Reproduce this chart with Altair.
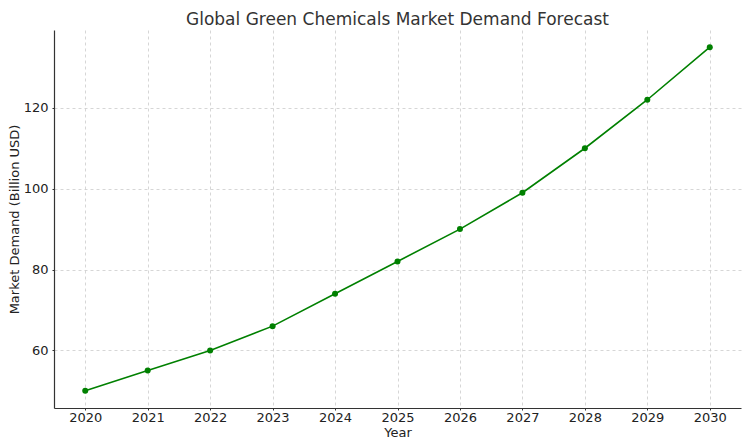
import altair as alt
import pandas as pd

years = [2020, 2021, 2022, 2023, 2024, 2025, 2026, 2027, 2028, 2029, 2030]
demand = [50, 55, 60, 66, 74, 82, 90, 99, 110, 122, 135]
x_ticks = years
y_ticks = [60, 80, 100, 120]

df = pd.DataFrame({"Year": years, "Demand": demand})

FONT = "DejaVu Sans"

base = alt.Chart(df).encode(
    x=alt.X(
        "Year:Q",
        scale=alt.Scale(domain=[2019.5, 2030.5], nice=False, zero=False),
        axis=alt.Axis(
            title="Year",
            values=x_ticks,
            format="d",
            grid=True,
            gridDash=[3, 3],
            gridColor="#cccccc",
            gridWidth=0.8,
            domainColor="#333333",
            domainWidth=1.2,
            tickSize=2,
            tickColor="#333333",
            labelPadding=1,
            labelFontSize=13,
            labelColor="#222222",
            labelFont=FONT,
            titleFont=FONT,
            titleFontSize=13,
            titleFontWeight="normal",
            titleColor="#222222",
            titlePadding=2,
        ),
    ),
    y=alt.Y(
        "Demand:Q",
        scale=alt.Scale(domain=[45.75, 139.25], nice=False, zero=False),
        axis=alt.Axis(
            title="Market Demand (Billion USD)",
            values=y_ticks,
            grid=True,
            gridDash=[3, 3],
            gridColor="#cccccc",
            gridWidth=0.8,
            domainColor="#333333",
            domainWidth=1.2,
            tickSize=2,
            tickColor="#333333",
            labelPadding=4,
            labelFontSize=13,
            labelColor="#222222",
            labelFont=FONT,
            titleFont=FONT,
            titleFontSize=13,
            titleFontWeight="normal",
            titleColor="#222222",
            titlePadding=2,
        ),
    ),
)

line = base.mark_line(color="green", strokeWidth=1.6)
points = base.mark_circle(color="green", size=36, opacity=1)

chart = (
    (line + points)
    .properties(
        width=734,
        height=431,
        title=alt.TitleParams(
            "Global Green Chemicals Market Demand Forecast",
            font=FONT,
            fontSize=17,
            fontWeight="normal",
            color="#333333",
            offset=1,
        ),
        autosize=alt.AutoSizeParams(type="fit", contains="padding"),
        padding={"left": 0, "top": 3, "right": 1, "bottom": 0},
    )
    .configure_view(stroke=None)
)

chart.save("out.html", embed_options={"renderer": "svg", "actions": False})
